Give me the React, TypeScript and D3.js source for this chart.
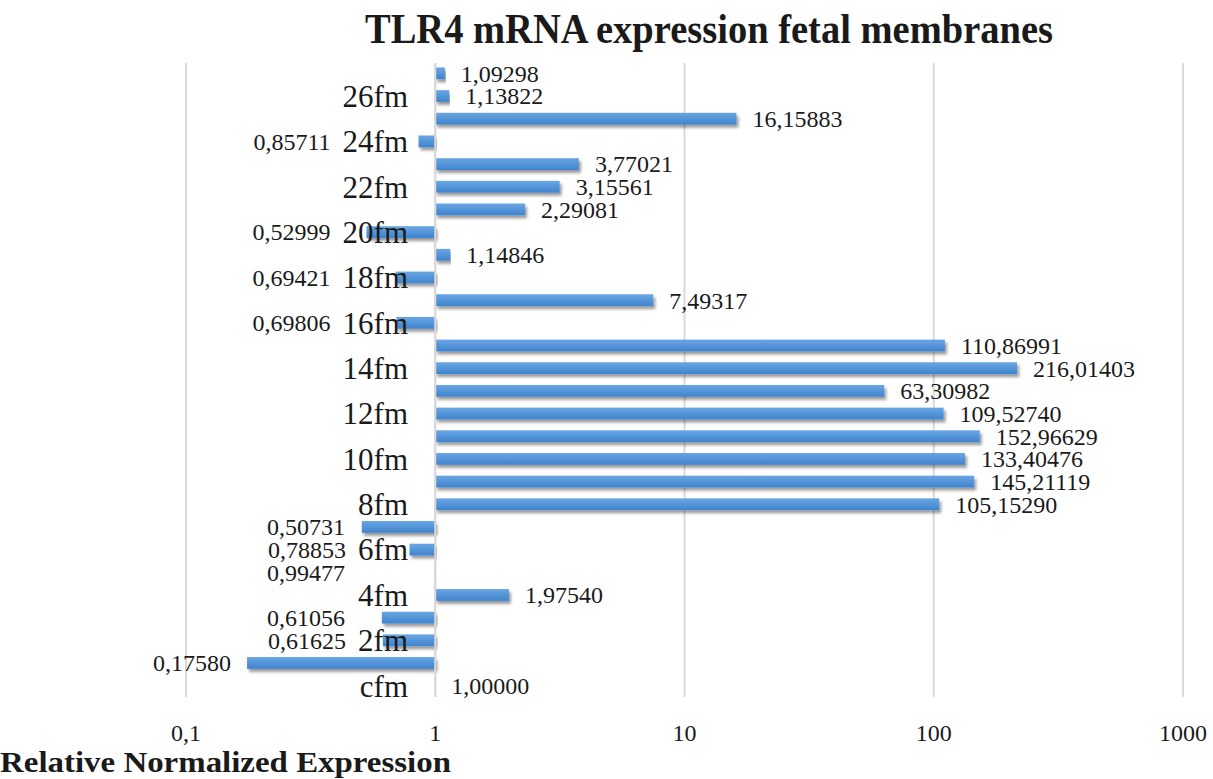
import * as d3 from "d3";

// Données
const categories = [
  "cfm", "1fm", "2fm", "3fm", "4fm", "5fm", "6fm", "7fm", "8fm", "9fm",
  "10fm", "11fm", "12fm", "13fm", "14fm", "15fm", "16fm", "17fm", "18fm", "19fm",
  "20fm", "21fm", "22fm", "23fm", "24fm", "25fm", "26fm", "27fm"
];

const values = [
  1.0, 0.1758, 0.61625, 0.61056, 1.9754, 0.99477, 0.78853, 0.50731, 105.1529, 145.21119,
  133.40476, 152.96629, 109.5274, 63.30982, 216.01403, 110.86991, 0.69806, 7.49317, 0.69421, 1.14846,
  0.52999, 2.29081, 3.15561, 3.77021, 0.85711, 16.15883, 1.13822, 1.09298
];

const tickValues = [0.1, 1, 10, 100, 1000];
const tickLabels = ["0,1", "1", "10", "100", "1000"];

const W = 1213;
const H = 779;
const serif = "'Liberation Serif', 'Times New Roman', serif";
const catFont = 31;
const catRight = 408;

// largeur approx. d'une étiquette de catégorie (Times)
const catWidth = (s: string) =>
  s.split("").reduce((a, ch) => a + (ch === "m" ? 0.778 : ch === "f" ? 0.333 : ch === "c" ? 0.444 : 0.5), 0) * catFont;

export default function App() {
  const x = d3.scaleLog().domain([0.1, 1000]).range([186, 1183]);
  const y = d3
    .scaleBand<string>()
    .domain([...categories].reverse())
    .range([62, 697])
    .paddingInner(0.48)
    .paddingOuter(0.24);

  const bw = y.bandwidth();
  const fmt = (v: number) => v.toFixed(5).replace(".", ",");

  return (
    <svg
      width={W}
      height={H}
      style={{ position: "absolute", left: 0, top: 0, background: "#fff" }}
    >
      <defs>
        <linearGradient id="barGrad" x1="0" y1="0" x2="0" y2="1">
          <stop offset="0%" stopColor="#6aa6e2" />
          <stop offset="100%" stopColor="#3f84ce" />
        </linearGradient>
        <filter id="shadow" x="-5%" y="-50%" width="110%" height="250%">
          <feDropShadow dx="2" dy="3" stdDeviation="1.6" floodColor="#000" floodOpacity="0.4" />
        </filter>
      </defs>

      {/* Titre */}
      <text
        x={709}
        y={43}
        textAnchor="middle"
        fontFamily={serif}
        fontWeight="bold"
        fontSize={42}
        textLength={688}
        lengthAdjust="spacingAndGlyphs"
        fill="#1a1a1a"
      >
        TLR4 mRNA expression fetal membranes
      </text>

      {/* Grille verticale */}
      {tickValues.map((t) => (
        <line
          key={"g" + t}
          x1={x(t)}
          x2={x(t)}
          y1={63}
          y2={697}
          stroke="#d9d9d9"
          strokeWidth={2}
        />
      ))}

      {/* Barres (origine à 1) */}
      {categories.map((c, i) => {
        const v = values[i];
        const x0 = Math.min(x(1), x(v));
        const x1 = Math.max(x(1), x(v));
        return (
          <rect
            key={"b" + c}
            x={x0}
            y={y(c)!}
            width={Math.max(x1 - x0, 0.5)}
            height={bw}
            fill="url(#barGrad)"
            filter="url(#shadow)"
          />
        );
      })}

      {/* Axe à 1 */}
      <line x1={x(1)} x2={x(1)} y1={63} y2={697} stroke="#d9d9d9" strokeWidth={2} />

      {/* Étiquettes de valeurs */}
      {categories.map((c, i) => {
        const v = values[i];
        const cy = y(c)! + bw / 2;
        const pos = v >= 1;
        const limit = i % 2 === 0 ? catRight - catWidth(c) - 12 : 345;
        const lx = pos ? x(v) + 16 : Math.min(x(v) - 16, limit);
        return (
          <text
            key={"v" + c}
            x={lx}
            y={cy}
            dy="0.35em"
            textAnchor={pos ? "start" : "end"}
            fontFamily={serif}
            fontSize={24}
            fill="#1a1a1a"
          >
            {fmt(v)}
          </text>
        );
      })}

      {/* Étiquettes de catégories (une sur deux) */}
      {categories.map((c, i) =>
        i % 2 === 0 ? (
          <text
            key={"c" + c}
            x={catRight}
            y={y(c)! + bw / 2}
            dy="0.35em"
            textAnchor="end"
            fontFamily={serif}
            fontSize={catFont}
            fill="#1a1a1a"
          >
            {c}
          </text>
        ) : null
      )}

      {/* Graduations */}
      {tickValues.map((t, i) => (
        <text
          key={"t" + t}
          x={x(t)}
          y={733}
          dy="0.35em"
          textAnchor="middle"
          fontFamily={serif}
          fontSize={24}
          fill="#1a1a1a"
        >
          {tickLabels[i]}
        </text>
      ))}

      {/* Titre de l'axe */}
      <text
        x={0}
        y={772}
        fontFamily={serif}
        fontWeight="bold"
        fontSize={29}
        textLength={451}
        lengthAdjust="spacingAndGlyphs"
        fill="#1a1a1a"
      >
        Relative Normalized  Expression
      </text>
    </svg>
  );
}
